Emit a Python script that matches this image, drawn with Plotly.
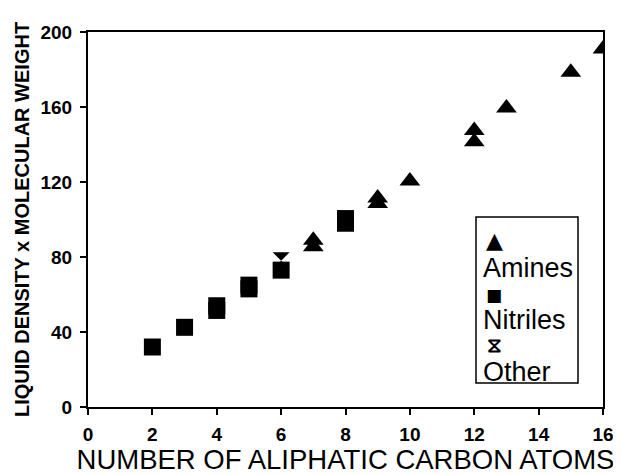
import plotly.graph_objects as go

# ---- data ----
amines_x = [7, 7, 9, 9, 10, 12, 12, 13, 15, 16]
amines_y = [85.5, 89, 108.5, 111.5, 120.5, 141.5, 147.5, 159.5, 178.5, 191]

nitriles_x = [2, 3, 4, 4, 5, 5, 6, 8, 8]
nitriles_y = [32, 42.5, 51.5, 54, 63, 65, 73, 98, 100.5]

other_x = [6]
other_y = [78]

x_ticks = [0, 2, 4, 6, 8, 10, 12, 14, 16]
y_ticks = [0, 40, 80, 120, 160, 200]

legend_labels = ["Amines", "Nitriles", "Other"]
legend_glyphs = ["\u25B2", "\u25A0", "\u29D6"]

x_title = "NUMBER OF ALIPHATIC CARBON ATOMS"
y_title = "LIQUID DENSITY x MOLECULAR WEIGHT"

FONT = "Liberation Sans"

fig = go.Figure()
fig.add_trace(go.Scatter(x=amines_x, y=amines_y, mode="markers", name=legend_labels[0],
                         marker=dict(symbol="triangle-up", size=18, color="black")))
fig.add_trace(go.Scatter(x=nitriles_x, y=nitriles_y, mode="markers", name=legend_labels[1],
                         marker=dict(symbol="square", size=17, color="black")))
fig.add_trace(go.Scatter(x=other_x, y=other_y, mode="markers", name=legend_labels[2],
                         marker=dict(symbol="hourglass", size=17, color="black")))

# the page body adds an 8px offset, so the figure is 8px smaller than the window
OFF = 8
W, H = 621 - OFF, 475 - OFF
L, R, T, B = 80, 18, 24, 68
pw, ph = W - L - R, H - T - B

def px(xp):  # page pixel -> paper x
    return (xp - OFF - L) / pw

def py(yp):  # page pixel -> paper y
    return (H - B - (yp - OFF)) / ph

fig.update_layout(
    width=W, height=H,
    margin=dict(l=L, r=R, t=T, b=B, autoexpand=False),
    paper_bgcolor="white", plot_bgcolor="white",
    showlegend=False,
    font=dict(family=FONT, color="black"),
    xaxis=dict(range=[0, 16], tickvals=x_ticks, ticktext=[str(v) for v in x_ticks],
               automargin=False,
               showgrid=False, zeroline=False, showline=True, linecolor="black", linewidth=2,
               mirror=True, ticks="outside", ticklen=6, tickwidth=1.5, tickcolor="black",
               ticklabelstandoff=3,
               tickfont=dict(size=19, family=FONT, weight="bold"),
               title=dict(text=x_title, font=dict(size=27.5, family=FONT), standoff=4)),
    yaxis=dict(range=[0, 200], tickvals=y_ticks, ticktext=[str(v) for v in y_ticks],
               automargin=False,
               showgrid=False, zeroline=False, showline=True, linecolor="black", linewidth=2,
               mirror=True, ticks="outside", ticklen=6, tickwidth=1.5, tickcolor="black",
               ticklabelstandoff=4,
               tickfont=dict(size=19, family=FONT, weight="bold"),
               title=dict(text=y_title, font=dict(size=20, family=FONT, weight="bold"), standoff=5)),
)

# legend box drawn by hand (marker above label, as in the reference)
bx0, bx1, by0, by1 = 476, 578, 217, 383
fig.add_shape(type="rect", xref="paper", yref="paper",
              x0=px(bx0), x1=px(bx1), y0=py(by1), y1=py(by0),
              line=dict(color="black", width=1.5), fillcolor="white")

glyph_y = [240, 295, 345]
glyph_size = [22, 17, 21]
label_y = [268, 320, 372]
for g, lab, gy, gs, ly in zip(legend_glyphs, legend_labels, glyph_y, glyph_size, label_y):
    fig.add_annotation(xref="paper", yref="paper", x=px(494), y=py(gy), text=g,
                       showarrow=False, xanchor="center", yanchor="middle",
                       font=dict(size=gs, family="DejaVu Sans", color="black", weight="bold"))
    fig.add_annotation(xref="paper", yref="paper", x=px(481), y=py(ly), text=lab,
                       showarrow=False, xanchor="left", yanchor="middle",
                       font=dict(size=27, family=FONT, color="black"))

fig.write_html("out.html")
